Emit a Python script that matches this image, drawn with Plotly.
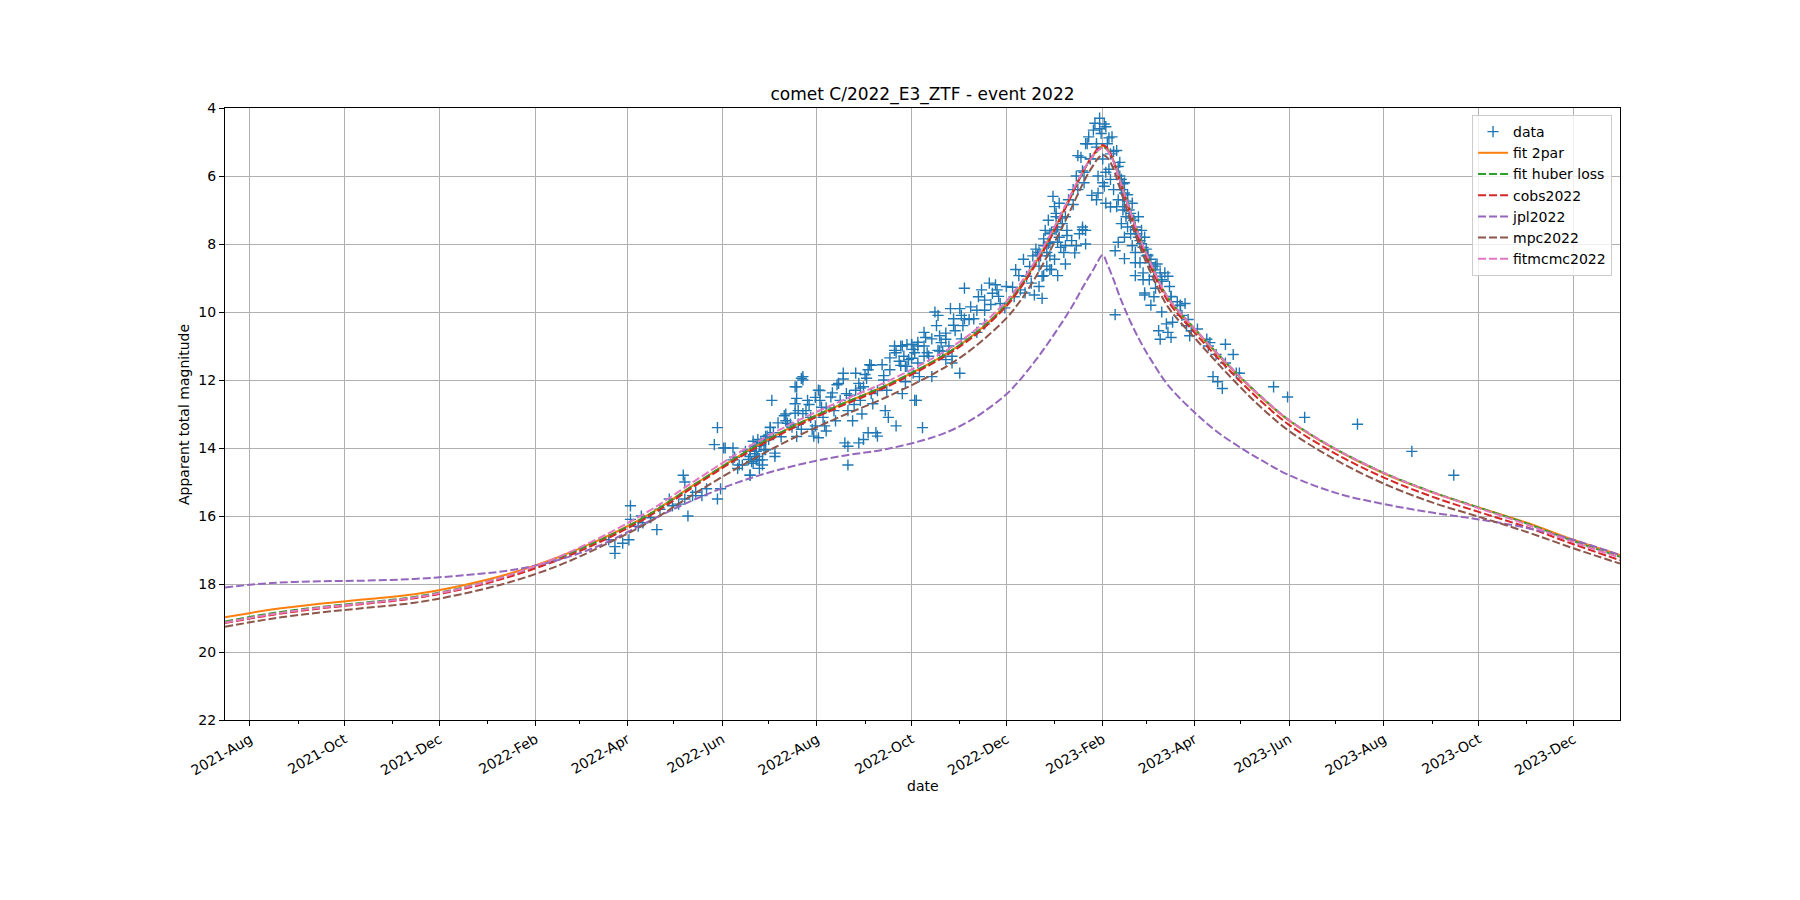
import pandas as pd
import plotly.graph_objects as go

# observations: days since 2022-01-01 and apparent total magnitude
DAY0 = pd.Timestamp("2022-01-01")

obs_day = [
    82, 82, 78, 87, 91, 92, 92, 99, 97, 100, 105, 109, 111, 117, 119, 123, 126, 127, 129, 127,
    132, 134, 138, 141, 148, 150, 146, 148, 152, 158, 158, 161, 164, 166, 169, 170, 173, 174, 175, 177,
    178, 179, 180,
    169, 171, 173, 175, 176, 181, 182, 184, 185, 178, 174, 172, 171, 169, 183, 192, 192, 195, 198, 200,
    200, 202, 203, 202, 198, 205, 206, 208, 209, 210, 211, 213, 214, 215, 216, 217, 218, 213, 221, 223,
    224, 226, 227, 229, 231, 232, 235, 237, 237, 239, 240, 241, 242, 244, 245, 246, 247, 248, 250, 251,
    232, 230, 239, 242, 245, 232, 254, 255, 257, 259, 262, 263, 265, 267, 269, 271, 273, 274, 276, 277,
    278, 280, 281, 282, 258, 263, 256,
    169, 173, 177, 179, 185, 189, 193, 198, 199, 203, 199,
    266, 268, 270, 273, 275, 277, 274, 269, 275, 267, 281, 284, 286, 283, 288, 290, 289, 291, 292, 293,
    295, 297, 298, 300, 301, 304, 305, 306, 304, 307, 299, 295, 291, 299, 307, 311, 313, 315, 316, 318,
    320, 320, 323, 325, 327, 328, 330, 334, 339, 340, 343, 345, 347, 350, 351, 352, 353, 355, 357, 358,
    359, 360, 361, 362, 363, 365, 366, 367, 368, 370, 372, 362, 355,
    355, 357, 360, 356, 358, 362, 364, 365, 366, 367, 368, 369, 362, 361, 363, 372, 373, 376, 379, 383,
    385, 381, 385, 371, 374, 377, 379, 380, 382, 383, 384, 385, 387, 388, 390, 391, 392, 393, 394, 395,
    396, 397, 398, 399, 400, 401, 402, 403, 405, 406, 407, 408, 409, 410, 411, 412, 414, 415, 417, 419,
    420, 422, 424, 426, 429, 436, 430, 396, 393, 392, 401, 398, 405, 408, 413, 404, 404,
    407, 408, 409, 410, 410, 412, 414, 415, 416, 417, 418, 419, 420, 421, 422, 423, 424, 425, 426, 427,
    410, 406, 417, 422, 423, 427, 429, 430, 433, 434, 434, 438, 439, 440, 437, 438, 440, 432, 433, 441,
    444, 446, 449, 447, 450, 453, 457, 452, 463, 465, 464, 469, 475, 475, 480, 467, 470, 473, 482,
    484, 506, 515, 526, 560, 595, 622,
    153, 159, 162, 168, 172, 175, 179, 182, 187, 191, 196, 199, 203, 207, 211, 214, 218, 222, 225, 229,
    233, 236, 240, 243, 247, 251, 255, 259, 262, 266, 270, 273, 277, 281, 286, 290, 295, 300, 305, 310,
    315, 320, 324, 329, 333, 338, 342, 346, 349, 354, 358, 361, 366, 369, 373, 377, 380, 384, 388, 392,
    394, 397, 400, 403, 406, 409, 412, 414, 417, 421, 425, 429, 434, 440, 446, 451,
    386, 389, 398, 401, 383, 378, 372, 367, 410, 417, 423, 431,
]
obs_mag = [
    17.1, 16.9, 16.7, 16.8, 16.7, 15.7, 16.1, 16.0, 16.3, 16.2, 16.05, 16.4, 15.8, 15.5, 15.7, 15.65, 14.8, 15.0, 16.0, 15.5,
    15.4, 15.3, 15.4, 15.2, 15.5, 15.2, 13.9, 13.4, 14.0, 14.0, 14.35, 14.6, 14.5, 14.1, 14.8, 14.4, 13.95, 14.25, 14.6, 14.35,
    13.75, 14.05, 13.65,
    14.25, 14.45, 14.1, 14.35, 13.85, 13.75, 13.4, 13.55, 14.25, 14.05, 13.75, 13.95, 13.8, 14.8, 12.6, 13.2, 13.0, 13.3, 12.7, 12.9,
    13.3, 13.45, 12.0, 11.95, 12.2, 12.9, 12.6, 13.1, 13.45, 13.65, 13.35, 12.3, 12.6, 12.8, 13.1, 13.35, 13.5, 13.7, 12.5, 12.9,
    13.2, 12.1, 12.6, 11.8, 12.4, 12.9, 13.2, 11.8, 12.3, 12.1, 12.6, 13.0, 12.2, 11.95, 11.7, 11.55, 12.4, 12.7, 13.55, 13.65,
    13.95, 13.85, 13.85, 13.75, 13.55, 14.5, 11.55, 12.0, 12.3, 11.35, 11.0, 11.2, 11.45, 11.0, 11.6, 11.4, 10.95, 11.1, 12.6, 11.0,
    11.9, 13.4, 10.6, 10.75, 13.1, 13.35, 12.9,
    14.06, 14.35, 14.5, 13.76, 14.15, 13.67, 13.27, 12.98, 12.2, 11.9, 12.54,
    11.0, 11.3, 11.6, 10.96, 11.2, 11.5, 11.8, 12.05, 12.6, 12.4, 11.0, 11.3, 11.9, 11.2, 10.0, 10.1, 10.4, 10.7, 10.9, 11.15,
    11.4, 11.0, 9.9, 10.2, 10.55, 9.9, 10.1, 10.4, 11.8, 10.2, 11.3, 10.8, 11.15, 11.5, 9.3, 9.85, 10.2, 10.6, 9.55, 9.35,
    9.65, 9.95, 9.15, 9.45, 9.2, 9.35, 9.75, 9.25, 9.55, 8.75, 9.35, 8.45, 8.95, 9.15, 8.35, 9.5, 8.15, 8.65, 9.6, 7.85,
    7.6, 8.25, 7.3, 8.75, 7.65, 8.45, 7.1, 7.95, 6.8, 7.4, 8.05, 7.95, 8.25,
    9.25, 8.95, 8.65, 8.35, 8.05, 8.35, 6.6, 6.9, 7.2, 7.5, 7.8, 8.1, 7.7, 7.95, 8.75, 7.2, 7.6, 7.9, 8.05, 7.5,
    8.0, 7.7, 7.6, 8.25, 6.7, 6.4, 6.0, 5.4, 5.45, 5.85, 6.2, 5.05, 4.85, 5.5, 4.65, 4.45, 5.15, 6.0, 4.3, 4.75,
    5.5, 6.3, 4.55, 5.05, 5.8, 5.35, 4.85, 6.4, 5.25, 6.7, 5.6, 6.1, 7.0, 6.5, 7.2, 7.5, 7.7, 8.05, 8.25, 7.8,
    8.55, 8.85, 8.35, 9.05, 9.55, 8.85, 8.65, 6.2, 6.5, 6.7, 6.1, 6.8, 6.9, 7.4, 7.0, 10.08, 8.2,
    6.0, 6.4, 6.7, 6.2, 6.9, 6.55, 7.1, 6.8, 7.3, 7.5, 7.7, 7.2, 7.9, 7.6, 8.1, 7.8, 8.15, 8.35, 8.55, 8.45,
    7.8, 7.95, 8.55, 9.05, 9.5, 9.8, 8.95, 9.3, 8.85, 9.05, 10.0, 8.95, 9.25, 9.55, 10.35, 10.6, 10.75, 10.55, 10.8, 10.3,
    9.7, 9.8, 9.75, 10.1, 10.4, 10.55, 10.5, 10.7, 10.8, 10.9, 11.0, 11.25, 10.95, 11.5, 11.25, 11.9, 12.05, 12.25, 11.8,
    11.8, 12.2, 12.5, 13.1, 13.3, 14.1, 14.8,
    14.0, 14.27, 14.5, 14.34, 14.17, 13.93, 13.66, 13.39, 13.26, 13.05, 13.39, 13.66, 12.99, 12.72, 12.51, 12.31, 12.82, 12.38, 12.14, 11.97,
    12.45, 12.72, 12.24, 11.84, 11.57, 12.31, 11.87, 11.7, 11.13, 11.57, 10.96, 11.36, 10.89, 11.3, 10.79, 11.13, 10.62, 10.39, 10.79, 10.22,
    9.95, 10.35, 9.78, 9.54, 9.88, 9.27, 8.93, 9.44, 8.66, 8.32, 8.93, 7.99, 7.58, 7.24, 7.75, 6.84, 6.4, 5.89, 5.49, 5.05,
    4.61, 4.47, 4.88, 5.28, 5.72, 6.23, 6.74, 7.24, 7.58, 7.99, 8.32, 8.76, 9.1, 9.54, 9.81, 10.22,
    5.05, 6.57, 5.89, 6.91, 7.58, 8.26, 8.59, 8.93, 8.43, 8.93, 9.44, 8.59,
]

# model light curves, sampled on these dates
model_dates = [
    "2021-07-16", "2021-08-15", "2021-09-15", "2021-10-15", "2021-11-15", "2021-12-15",
    "2022-01-15", "2022-02-15", "2022-03-15", "2022-04-15", "2022-05-15", "2022-06-15",
    "2022-07-15", "2022-08-15", "2022-09-15", "2022-10-15", "2022-11-01", "2022-11-15",
    "2022-12-01", "2022-12-10", "2022-12-19", "2022-12-27", "2023-01-03", "2023-01-09",
    "2023-01-14", "2023-01-18", "2023-01-22", "2023-01-26", "2023-01-29", "2023-02-01",
    "2023-02-04", "2023-02-08", "2023-02-12", "2023-02-18", "2023-02-25", "2023-03-04",
    "2023-03-15", "2023-04-01", "2023-04-15", "2023-05-01", "2023-05-15", "2023-06-01",
    "2023-07-01", "2023-08-01", "2023-09-01", "2023-10-01", "2023-11-01", "2023-12-01",
    "2023-12-31",
]
fit_2par = [
    18.98, 18.75, 18.58, 18.45, 18.30, 18.05, 17.70, 17.22, 16.68, 15.95, 15.05, 14.15,
    13.40, 12.75, 12.15, 11.45, 10.97, 10.48, 9.78, 9.25, 8.62, 7.98, 7.37, 6.82,
    6.35, 5.98, 5.65, 5.38, 5.22, 5.12, 5.20, 5.55, 6.10, 6.95, 7.85, 8.60,
    9.60, 10.50, 11.20, 11.95, 12.55, 13.20, 14.05, 14.75, 15.30, 15.75, 16.20, 16.70,
    17.15,
]
fit_huber = [
    19.10, 18.86, 18.68, 18.54, 18.38, 18.12, 17.75, 17.25, 16.70, 15.96, 15.05, 14.15,
    13.40, 12.75, 12.15, 11.45, 10.97, 10.48, 9.78, 9.25, 8.62, 7.99, 7.38, 6.83,
    6.36, 6.00, 5.67, 5.40, 5.24, 5.15, 5.23, 5.57, 6.10, 6.94, 7.83, 8.58,
    9.58, 10.48, 11.18, 11.93, 12.53, 13.18, 14.03, 14.73, 15.29, 15.75, 16.22, 16.74,
    17.20,
]
cobs2022 = [
    19.15, 18.91, 18.72, 18.58, 18.42, 18.16, 17.79, 17.30, 16.75, 16.01, 15.10, 14.20,
    13.45, 12.80, 12.20, 11.50, 11.02, 10.53, 9.83, 9.30, 8.67, 8.03, 7.41, 6.85,
    6.37, 5.99, 5.65, 5.37, 5.19, 5.09, 5.18, 5.57, 6.14, 7.00, 7.92, 8.68,
    9.68, 10.60, 11.30, 12.06, 12.67, 13.32, 14.17, 14.87, 15.43, 15.88, 16.33, 16.83,
    17.30,
]
jpl2022 = [
    18.10, 17.97, 17.92, 17.90, 17.85, 17.75, 17.60, 17.30, 16.85, 16.15, 15.50, 14.95,
    14.55, 14.25, 14.03, 13.68, 13.36, 12.98, 12.42, 11.98, 11.47, 10.97, 10.50, 10.08,
    9.70, 9.37, 9.05, 8.75, 8.50, 8.32, 8.60, 9.05, 9.55, 10.20, 10.85, 11.40,
    12.15, 12.95, 13.50, 14.00, 14.38, 14.80, 15.32, 15.65, 15.90, 16.10, 16.35, 16.70,
    17.15,
]
mpc2022 = [
    19.26, 19.02, 18.84, 18.70, 18.55, 18.30, 17.95, 17.47, 16.90, 16.18, 15.32, 14.48,
    13.75, 13.10, 12.50, 11.82, 11.35, 10.86, 10.18, 9.67, 9.04, 8.38, 7.77, 7.22,
    6.73, 6.34, 5.98, 5.68, 5.48, 5.38, 5.46, 5.80, 6.35, 7.20, 8.10, 8.85,
    9.85, 10.75, 11.46, 12.23, 12.85, 13.50, 14.35, 15.05, 15.60, 16.02, 16.47, 16.95,
    17.40,
]
fitmcmc2022 = [
    19.13, 18.89, 18.70, 18.56, 18.40, 18.13, 17.74, 17.22, 16.62, 15.85, 14.95, 14.05,
    13.30, 12.65, 12.05, 11.35, 10.87, 10.38, 9.68, 9.16, 8.54, 7.91, 7.31, 6.77,
    6.31, 5.96, 5.65, 5.40, 5.25, 5.17, 5.25, 5.58, 6.12, 6.95, 7.83, 8.58,
    9.58, 10.48, 11.18, 11.93, 12.53, 13.18, 14.03, 14.73, 15.30, 15.77, 16.25, 16.77,
    17.22,
]

obs_dates = [DAY0 + pd.Timedelta(days=d) for d in obs_day]

FONT = "DejaVu Sans"

fig = go.Figure()

fig.add_trace(go.Scatter(
    x=obs_dates, y=obs_mag, mode="markers", name="data",
    marker=dict(symbol="cross-thin", size=8, line=dict(width=1.4, color="#1f77b4"), color="#1f77b4"),
))

lines = [
    ("fit 2par", fit_2par, "#ff7f0e", "solid"),
    ("fit huber loss", fit_huber, "#2ca02c", "8px,3px"),
    ("cobs2022", cobs2022, "#d62728", "8px,3px"),
    ("jpl2022", jpl2022, "#9467bd", "8px,3px"),
    ("mpc2022", mpc2022, "#8c564b", "8px,3px"),
    ("fitmcmc2022", fitmcmc2022, "#e377c2", "8px,3px"),
]
for name, vals, color, dash in lines:
    fig.add_trace(go.Scatter(
        x=model_dates, y=vals, mode="lines", name=name,
        line=dict(color=color, width=2, dash=dash, shape="spline", smoothing=1.0),
    ))

axis_common = dict(
    showline=True, linecolor="black", linewidth=1, mirror=True,
    ticks="outside", ticklen=5, tickcolor="black", tickwidth=1,
    showgrid=True, gridcolor="#b0b0b0", gridwidth=1, zeroline=False,
    tickfont=dict(family=FONT, size=14, color="black"),
)

fig.update_xaxes(
    type="date", range=["2021-07-16", "2023-12-31"],
    tick0="2021-08-01", dtick="M2", tickformat="%Y-%b", tickangle=-30,
    minor=dict(dtick="M1", ticks="outside", ticklen=3, tickcolor="black", showgrid=False),
    **axis_common,
)
fig.update_yaxes(range=[22, 4], tick0=4, dtick=2, **axis_common)

# the page adds an 8px body margin, so margins are reduced accordingly
fig.update_layout(
    width=1800, height=900,
    margin=dict(l=217, r=188, t=100, b=188),
    paper_bgcolor="white", plot_bgcolor="white",
    font=dict(family=FONT, size=14, color="black"),
    title=dict(text="comet C/2022_E3_ZTF - event 2022", x=0.5, xref="paper",
               y=1 - 86 / 900, yref="container", yanchor="middle",
               font=dict(family=FONT, size=17, color="black")),
    legend=dict(x=0.9943, y=0.9886, xanchor="right", yanchor="top",
                bgcolor="rgba(255,255,255,0.8)", bordercolor="#cccccc", borderwidth=1,
                font=dict(family=FONT, size=14, color="black")),
    showlegend=True,
    annotations=[
        dict(text="date", x=0.5, y=-0.108, xref="paper", yref="paper",
             showarrow=False, xanchor="center", yanchor="middle",
             font=dict(family=FONT, size=14, color="black")),
        dict(text="Apparent total magnitude", x=-0.0294, y=0.5, xref="paper", yref="paper",
             showarrow=False, textangle=-90, xanchor="center", yanchor="middle",
             font=dict(family=FONT, size=14, color="black")),
    ],
)

fig.write_html("out.html")
